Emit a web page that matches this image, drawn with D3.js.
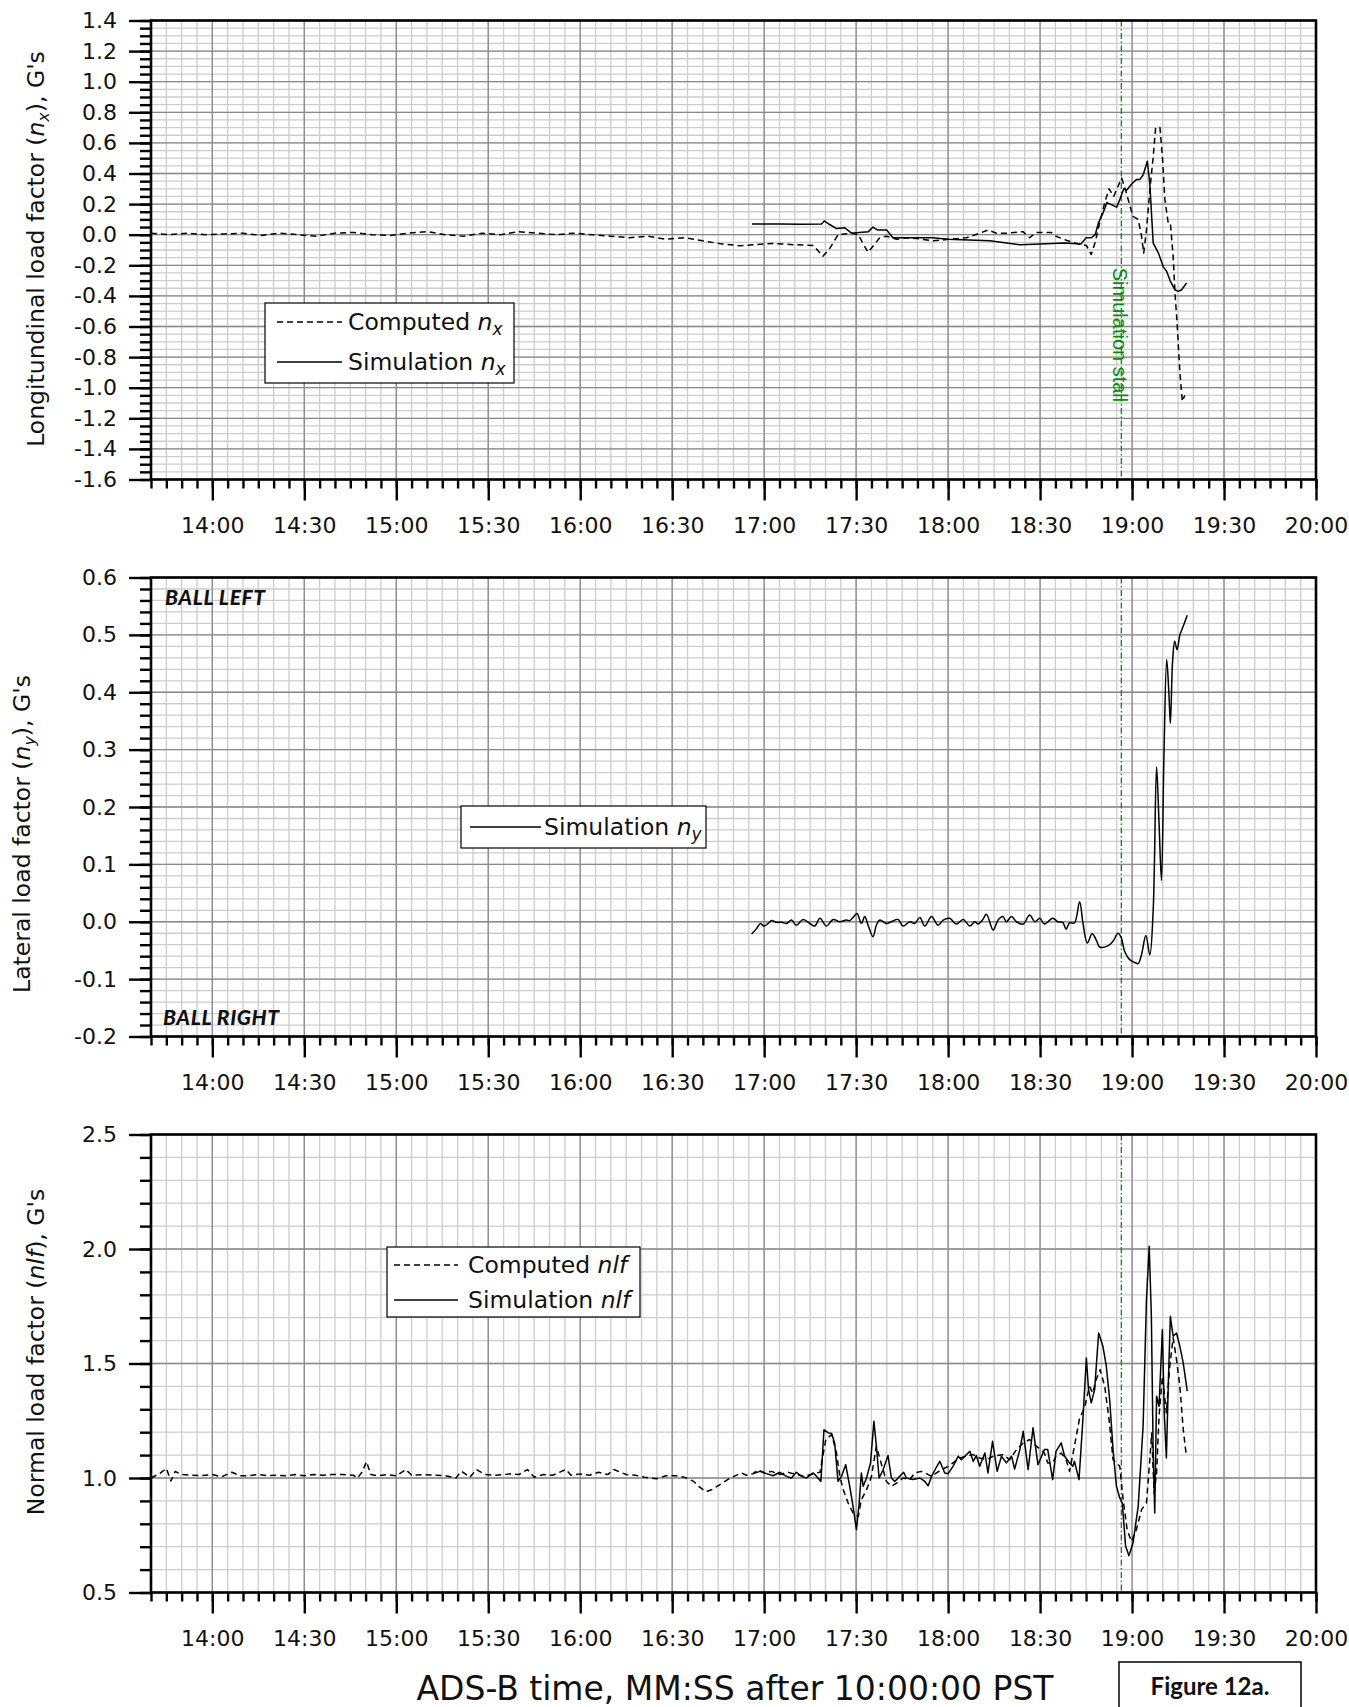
<!DOCTYPE html>
<html>
<head>
<meta charset="utf-8">
<script src="https://cdn.jsdelivr.net/npm/d3@7"></script>
<style>
  body { margin: 0; background: #fff; }
  svg { display: block; }
  text { font-family: "DejaVu Sans", "Noto Sans", sans-serif; fill: #111; }
</style>
</head>
<body>
<svg id="chart" width="1349" height="1707"></svg>
<script>
// Time is seconds past the hour (MM:SS after 10:00:00 PST), value in G's.

const xTickLabels = ["14:00","14:30","15:00","15:30","16:00","16:30","17:00","17:30","18:00","18:30","19:00","19:30","20:00"];
const stallTime = 1136.5;

// Longitudinal load factor, computed from ADS-B
const computedNx = [
  [820,0.01],[826,0.0],[832,0.01],[838,0.0],[844,0.005],[850,0.01],[856,-0.005],[862,0.01],[868,0.0],
  [874,-0.01],[880,0.01],[886,0.015],[892,0.0],[898,-0.005],[904,0.01],[910,0.02],[916,0.0],[922,-0.01],
  [928,0.01],[934,0.0],[940,0.02],[946,0.01],[952,0.0],[958,0.01],[964,0.0],[970,-0.01],[976,-0.02],
  [982,-0.01],[988,-0.03],[994,-0.02],[1000,-0.04],[1006,-0.06],[1012,-0.072],[1022.9,-0.057],[1029.5,-0.065],
  [1036,-0.07],[1039.2,-0.14],[1041.4,-0.09],[1044.1,0.0],[1048.5,0.01],[1050.7,0.0],[1052.3,-0.06],
  [1053.9,-0.115],[1056.1,-0.06],[1057.7,-0.02],[1059.9,-0.01],[1063.2,-0.03],[1066.4,-0.02],[1069.7,-0.025],
  [1075.1,-0.04],[1080.5,-0.03],[1086,-0.02],[1090.3,0.01],[1093,0.03],[1095.8,0.01],[1099,0.01],
  [1104.4,0.02],[1106.6,-0.02],[1108.7,0.015],[1113.6,0.015],[1115.2,-0.01],[1119,-0.04],[1123.4,-0.065],
  [1125.1,-0.07],[1126.7,-0.13],[1128.1,-0.04],[1129.4,0.076],[1131.1,0.21],[1132.5,0.30],[1134,0.25],
  [1135.4,0.315],[1136.6,0.37],[1137.9,0.29],[1139,0.21],[1140.3,0.12],[1142,0.10],[1143.1,-0.01],
  [1143.8,-0.12],[1144.7,0.03],[1145.8,0.29],[1146.9,0.51],[1147.7,0.70],[1149.1,0.70],[1149.9,0.51],
  [1150.7,0.23],[1151.8,0.076],[1152.5,0.076],[1153.4,-0.14],[1154,-0.38],[1154.7,-0.58],[1155.6,-0.90],
  [1156.4,-1.09],[1157.2,-1.05]
];

// Longitudinal load factor, simulation
const simulationNx = [
  [1016,0.07],[1025,0.07],[1032,0.068],[1038.7,0.07],[1039.6,0.09],[1041.5,0.065],[1043.6,0.04],
  [1046.3,0.045],[1048.5,0.01],[1051,0.015],[1054,0.02],[1055.5,0.05],[1057,0.03],[1060,0.03],
  [1062,-0.02],[1067,-0.02],[1075,-0.02],[1080,-0.03],[1093.6,-0.04],[1103.4,-0.065],[1110,-0.06],
  [1118,-0.055],[1123.4,-0.06],[1125,-0.02],[1126.7,-0.02],[1128,0.0],[1129,0.076],[1130.5,0.14],
  [1131.8,0.21],[1133.4,0.195],[1135,0.18],[1136,0.23],[1137.3,0.30],[1138.2,0.29],[1139.8,0.33],
  [1141.4,0.36],[1142.5,0.36],[1143.6,0.39],[1145,0.48],[1145.8,0.33],[1146.9,-0.055],[1148.6,-0.12],
  [1150.2,-0.21],[1151.3,-0.24],[1152.4,-0.30],[1154,-0.36],[1155.1,-0.37],[1156.2,-0.36],[1157.8,-0.315]
];

// Lateral load factor, simulation
const simulationNy = [
  [1015.9,-0.0215],[1017.5,-0.012],[1018.8,-0.003],[1019.9,-0.0075],[1021.3,-0.003],[1022.4,0.002],
  [1024,-0.001],[1025.7,-0.001],[1027.3,-0.003],[1028.9,0.003],[1030.5,-0.006],[1032.7,0.004],
  [1034.9,-0.003],[1036.5,-0.0075],[1038.2,0.006],[1040.3,-0.0075],[1042.5,0.004],[1044.7,0.0],
  [1046.8,0.003],[1047.9,0.002],[1049,0.0075],[1050.3,0.0145],[1051.7,-0.003],[1052.8,0.009],
  [1053.9,-0.006],[1055.5,-0.026],[1056.6,-0.006],[1057.7,0.003],[1059.9,-0.003],[1061.5,0.0],
  [1063.7,0.004],[1065.3,-0.0075],[1067.5,0.0],[1069.1,-0.003],[1070.8,0.0075],[1072.4,-0.0075],
  [1074.6,0.009],[1076.7,-0.006],[1078.4,0.003],[1080.5,0.006],[1082.7,-0.004],[1084.9,0.004],
  [1087.1,-0.0075],[1088.7,0.0],[1089.8,-0.004],[1091.2,0.003],[1092.5,0.013],[1094.7,-0.0145],
  [1096.3,0.003],[1097.9,0.009],[1099,0.0],[1100.7,0.009],[1102.3,0.0],[1104.5,-0.004],[1106.6,0.0116],
  [1108.3,0.0],[1109.9,0.006],[1111.4,-0.004],[1114.1,0.006],[1115.8,0.0],[1117.4,-0.001],[1118.5,-0.013],
  [1119.6,-0.002],[1121.2,-0.002],[1122.9,0.035],[1124,-0.003],[1125.4,-0.037],[1127,-0.021],
  [1128.5,-0.034],[1129.4,-0.044],[1132.1,-0.042],[1133.8,-0.034],[1135.4,-0.02],[1136.5,-0.028],
  [1137.6,-0.052],[1139.2,-0.066],[1140.9,-0.071],[1142,-0.073],[1143.1,-0.057],[1144.5,-0.024],
  [1145.8,-0.058],[1146.9,0.021],[1148,0.27],[1148.8,0.172],[1149.6,0.072],[1150.4,0.288],
  [1151.3,0.457],[1152,0.40],[1152.5,0.346],[1153.2,0.451],[1153.9,0.489],[1154.7,0.474],
  [1155.6,0.50],[1156.7,0.515],[1158,0.534]
];

// Normal load factor, computed from ADS-B
const computedNlf = [
  [820,1.0],[822.9,1.02],[825,1.042],[826.5,0.987],[827.9,1.029],[830,1.015],[833,1.012],[836,1.01],
  [840,1.015],[843,1.005],[846.4,1.025],[849,1.01],[852,1.01],[855,1.015],[858,1.01],[861,1.012],
  [864,1.01],[867,1.015],[870,1.01],[873,1.015],[876,1.012],[879,1.015],[882,1.015],[886,1.012],
  [887.4,1.0],[888.8,1.025],[890.3,1.071],[891.7,1.015],[894,1.01],[897,1.015],[900,1.01],[903.2,1.037],
  [905,1.012],[909,1.015],[913,1.012],[916,1.01],[919.5,1.0],[920.5,1.018],[921.3,1.029],[924,1.003],
  [926.1,1.037],[929,1.015],[932,1.012],[935,1.015],[937,1.018],[940,1.015],[942.8,1.037],[945,1.003],
  [948,1.015],[951,1.012],[955.3,1.037],[957,1.012],[960,1.018],[963,1.012],[966,1.025],[969,1.015],
  [971,1.037],[975,1.015],[978,1.012],[981,1.003],[985,0.997],[988,1.01],[991,1.01],[994,1.003],
  [997,0.985],[999,0.96],[1001,0.94],[1003,0.95],[1006,0.975],[1009,1.0],[1012.6,1.022],
  [1014.2,1.012],[1016.4,1.019],[1018,1.036],[1020.2,1.022],[1022.4,1.029],[1025.1,1.015],[1027.8,1.025],
  [1030.5,1.015],[1033.3,1.007],[1036,1.019],[1038.2,1.025],[1040.1,1.168],[1042,1.19],[1043.6,1.109],
  [1044.7,1.007],[1045.8,0.949],[1047.4,0.891],[1049,0.847],[1050.7,0.832],[1051.7,0.905],[1053.4,0.949],
  [1055,1.007],[1056.6,1.139],[1058.3,1.058],[1059.9,0.985],[1061.5,0.964],[1063.2,0.978],[1065.3,1.0],
  [1067.5,0.993],[1069.1,1.022],[1071.3,1.029],[1072.9,1.019],[1074.6,1.007],[1076.2,1.022],[1077.8,1.036],
  [1080,1.051],[1081.6,1.066],[1083.8,1.087],[1086,1.095],[1088.2,1.102],[1090.3,1.087],[1092.5,1.08],
  [1094.7,1.095],[1097.9,1.102],[1100.1,1.08],[1102.3,1.124],[1104.5,1.153],[1106.6,1.168],[1108.8,1.139],
  [1111.4,1.109],[1112.5,1.066],[1114.1,1.066],[1115.2,1.095],[1116.9,1.109],[1118.5,1.08],[1119.6,1.029],
  [1121.2,1.138],[1122.9,1.262],[1124.5,1.306],[1126.1,1.40],[1127.2,1.371],[1128.3,1.43],[1129.6,1.473],
  [1131.1,1.40],[1132.5,1.255],[1133.8,1.08],[1136,1.051],[1137.1,0.905],[1138.4,0.774],[1139.8,0.723],
  [1141.4,0.774],[1143.1,0.862],[1144.7,0.891],[1145.8,1.08],[1146.4,1.197],[1147.2,0.934],[1148,1.022],
  [1148.8,1.269],[1149.9,1.444],[1151.2,1.284],[1152.3,1.488],[1153.4,1.612],[1154.5,1.517],[1155.6,1.40],
  [1156.7,1.211],[1157.6,1.109]
];

// Normal load factor, simulation
const simulationNlf = [
  [1016.4,1.019],[1018.6,1.029],[1020.8,1.019],[1022.9,1.01],[1025.1,1.025],[1027.3,1.007],[1028.9,1.0],
  [1030.5,1.025],[1032.2,1.007],[1033.8,1.0],[1036,1.022],[1037.1,1.007],[1038.5,0.985],[1039.5,1.211],
  [1040.9,1.197],[1042,1.194],[1043,1.153],[1044.1,0.985],[1045.2,1.007],[1046.6,1.058],[1047.9,0.964],
  [1049,0.876],[1050.1,0.774],[1051,0.891],[1051.7,1.022],[1052.3,0.964],[1053.4,1.0],[1054.7,1.066],
  [1055.8,1.248],[1056.6,1.139],[1057.5,1.0],[1058.8,1.036],[1060.4,1.098],[1061.5,1.0],[1062.6,0.985],
  [1064.2,1.007],[1065.5,1.025],[1066.4,1.0],[1068.6,0.993],[1070.8,1.0],[1072.4,0.985],[1073.5,0.966],
  [1074.6,1.007],[1076.2,1.048],[1077.3,1.073],[1078.9,1.022],[1080,1.019],[1081.6,1.051],[1083.3,1.095],
  [1084.3,1.08],[1086,1.102],[1087.1,1.117],[1088.2,1.073],[1089.2,1.098],[1090.3,1.051],[1092,1.109],
  [1093,1.022],[1094.5,1.16],[1096,1.029],[1097.4,1.095],[1099,1.066],[1100.7,1.095],[1101.7,1.039],
  [1103.4,1.124],[1104.5,1.204],[1106.1,1.036],[1107.7,1.219],[1109.3,1.058],[1111.4,1.124],[1112.5,1.124],
  [1114.1,0.993],[1115.2,1.116],[1116.9,1.153],[1118,1.095],[1119.6,1.066],[1120.7,1.051],[1121.2,1.073],
  [1122.7,0.993],[1124,1.262],[1125.1,1.524],[1125.8,1.386],[1126.7,1.328],[1127.8,1.386],[1129.1,1.633],
  [1130.5,1.575],[1131.6,1.488],[1132.7,1.342],[1133.8,1.124],[1134.9,0.964],[1136,0.913],[1136.8,0.891],
  [1137.9,0.702],[1139,0.661],[1140.3,0.716],[1142,0.876],[1143.6,1.226],[1144.7,1.779],[1145.6,2.012],
  [1146.3,1.706],[1146.9,1.109],[1147.4,0.847],[1148,1.357],[1148.8,1.313],[1149.9,1.648],[1150.5,1.284],
  [1151.2,1.087],[1151.8,1.40],[1152.5,1.706],[1153.4,1.619],[1154.5,1.633],[1155.6,1.575],[1156.7,1.502],
  [1158,1.379]
];

const plotLeft = 151, plotRight = 1316;
const svg = d3.select("#chart");

const x = d3.scaleLinear().domain([820, 1200]).range([plotLeft, plotRight]);
const majorX = d3.range(840, 1201, 30);
const minorX = d3.range(820, 1201, 5);

// Adds a run of text pieces; pieces may be italic and/or subscript.
function richText(sel, pieces, subSize) {
  pieces.forEach(p => {
    const ts = sel.append("tspan").text(p.t);
    if (p.it) ts.attr("font-style", "italic");
    if (p.sub) ts.attr("font-size", subSize).attr("dy", "0.32em");
    if (p.after) ts.attr("dy", "-0.22em");
  });
  return sel;
}

function steps(lo, hi, step) {
  return d3.range(0, Math.round((hi - lo) / step) + 1).map(i => +(lo + i * step).toFixed(3));
}

function panel(cfg) {
  const g = svg.append("g");
  const y = d3.scaleLinear().domain(cfg.domain).range([cfg.bottom, cfg.top]);
  const majorY = steps(cfg.domain[0], cfg.domain[1], cfg.major);
  const minorY = steps(cfg.domain[0], cfg.domain[1], cfg.minor);

  // light grid
  const grid = g.append("g");
  grid.selectAll(".vmin").data(minorX).join("line")
    .attr("x1", d => x(d)).attr("x2", d => x(d)).attr("y1", cfg.top).attr("y2", cfg.bottom)
    .attr("stroke", "#cdcdcd").attr("stroke-width", 1.3);
  grid.selectAll(".hmin").data(minorY).join("line")
    .attr("x1", plotLeft).attr("x2", plotRight).attr("y1", d => y(d)).attr("y2", d => y(d))
    .attr("stroke", "#cdcdcd").attr("stroke-width", 1.3);
  // dark grid
  grid.selectAll(".vmaj").data(majorX).join("line")
    .attr("x1", d => x(d)).attr("x2", d => x(d)).attr("y1", cfg.top).attr("y2", cfg.bottom)
    .attr("stroke", "#8a8a8a").attr("stroke-width", 1.3);
  grid.selectAll(".hmaj").data(majorY).join("line")
    .attr("x1", plotLeft).attr("x2", plotRight).attr("y1", d => y(d)).attr("y2", d => y(d))
    .attr("stroke", "#8a8a8a").attr("stroke-width", 1.3);

  // stall marker
  g.append("line")
    .attr("x1", x(stallTime)).attr("x2", x(stallTime)).attr("y1", cfg.top).attr("y2", cfg.bottom)
    .attr("stroke", "#0a8a0a").attr("stroke-width", 1.3).attr("stroke-dasharray", "6,2.5,1.5,2.5");

  // series
  cfg.series.forEach(s => {
    const line = d3.line().x(d => x(d[0])).y(d => y(d[1]));
    if (s.smooth) line.curve(d3.curveCatmullRom.alpha(0.5));
    g.append("path").datum(s.data).attr("d", line)
      .attr("fill", "none").attr("stroke", "#000").attr("stroke-width", 1.5)
      .attr("stroke-linejoin", "round")
      .attr("stroke-dasharray", s.dashed ? "6,4" : null);
  });

  // axes
  const axMinorX = d3.axisBottom(x).tickValues(minorX).tickSize(9).tickFormat("");
  const axMajorX = d3.axisBottom(x).tickValues(majorX).tickSize(21).tickPadding(17)
    .tickFormat(d => xTickLabels[majorX.indexOf(d)]);
  const axMinorY = d3.axisLeft(y).tickValues(minorY).tickSize(11).tickFormat("");
  const axMajorY = d3.axisLeft(y).tickValues(majorY).tickSize(22).tickPadding(12)
    .tickFormat(d => d.toFixed(1));

  [[axMinorX, `translate(0,${cfg.bottom})`], [axMajorX, `translate(0,${cfg.bottom})`],
   [axMinorY, `translate(${plotLeft},0)`], [axMajorY, `translate(${plotLeft},0)`]].forEach(([a, tr]) => {
    const ga = g.append("g").attr("transform", tr).call(a);
    ga.select(".domain").remove();
    ga.selectAll(".tick line").attr("stroke", "#000").attr("stroke-width", 2.4);
    ga.selectAll("text").attr("font-size", 22).attr("fill", "#111");
  });

  // frame
  g.append("rect").attr("x", plotLeft).attr("y", cfg.top)
    .attr("width", plotRight - plotLeft).attr("height", cfg.bottom - cfg.top)
    .attr("fill", "none").attr("stroke", "#000").attr("stroke-width", 2.6);

  // y title
  const yt = g.append("text")
    .attr("transform", `translate(${cfg.titleX},${cfg.titleY}) rotate(-90)`)
    .attr("text-anchor", "middle").attr("font-size", 23.5);
  richText(yt, cfg.title, 16);

  // legend
  if (cfg.legend) {
    const L = cfg.legend;
    g.append("rect").attr("x", L.x).attr("y", L.y).attr("width", L.w).attr("height", L.h)
      .attr("fill", "#fff").attr("stroke", "#000").attr("stroke-width", 1.2);
    L.rows.forEach(r => {
      g.append("line").attr("x1", L.lineX0).attr("x2", L.lineX1).attr("y1", r.cy).attr("y2", r.cy)
        .attr("stroke", "#000").attr("stroke-width", 1.3)
        .attr("stroke-dasharray", r.dashed ? "6,4" : null);
      const t = g.append("text").attr("x", L.textX).attr("y", r.cy + 8).attr("font-size", L.fs);
      richText(t, r.label, 17);
    });
  }
  return { g, y };
}

// Panel 1: longitudinal
const p1 = panel({
  top: 20.5, bottom: 479.5, domain: [-1.6, 1.4], major: 0.2, minor: 0.05,
  titleX: 44, titleY: 249,
  title: [{t:"Longitundinal load factor ("},{t:"n",it:true},{t:"x",it:true,sub:true},{t:"), G's",after:true}],
  series: [{data: computedNx, dashed: true}, {data: simulationNx}],
  legend: { x: 265, y: 303, w: 249, h: 80, lineX0: 277, lineX1: 342, textX: 348, fs: 23.5,
    rows: [
      {cy: 322, dashed: true, label: [{t:"Computed "},{t:"n",it:true},{t:"x",it:true,sub:true}]},
      {cy: 362, label: [{t:"Simulation "},{t:"n",it:true},{t:"x",it:true,sub:true}]}
    ] }
});
p1.g.append("text")
  .attr("transform", `translate(${x(stallTime) - 1.5},${335}) rotate(90)`)
  .attr("text-anchor", "middle").attr("dy", "0.36em")
  .style("font-family", "'Liberation Sans', Arial, sans-serif")
  .attr("font-size", 20).style("fill", "#0a8a0a")
  .text("Simulation stall");

// Panel 2: lateral
const p2 = panel({
  top: 577.5, bottom: 1036.5, domain: [-0.2, 0.6], major: 0.1, minor: 0.02,
  titleX: 30, titleY: 834,
  title: [{t:"Lateral load factor ("},{t:"n",it:true},{t:"y",it:true,sub:true},{t:"), G's",after:true}],
  series: [{data: simulationNy, smooth: true}],
  legend: { x: 461, y: 806, w: 245, h: 42, lineX0: 470, lineX1: 541, textX: 544, fs: 23.5,
    rows: [ {cy: 827, label: [{t:"Simulation "},{t:"n",it:true},{t:"y",it:true,sub:true}]} ] }
});
[["BALL LEFT", 165, 605], ["BALL RIGHT", 163, 1025]].forEach(([s, tx, ty]) => {
  p2.g.append("text").attr("x", tx).attr("y", ty).attr("font-size", 21)
    .style("font-family", "Lato, sans-serif").attr("letter-spacing", 0.6)
    .attr("font-weight", 900).attr("font-style", "italic").text(s);
});

// Panel 3: normal
const p3 = panel({
  top: 1134.5, bottom: 1592.5, domain: [0.5, 2.5], major: 0.5, minor: 0.1,
  titleX: 44, titleY: 1352,
  title: [{t:"Normal load factor ("},{t:"nlf",it:true},{t:"), G's"}],
  series: [{data: computedNlf, dashed: true}, {data: simulationNlf}],
  legend: { x: 387, y: 1247, w: 253, h: 70, lineX0: 394, lineX1: 458, textX: 468, fs: 23.5,
    rows: [
      {cy: 1265, dashed: true, label: [{t:"Computed "},{t:"nlf",it:true}]},
      {cy: 1300, label: [{t:"Simulation "},{t:"nlf",it:true}]}
    ] }
});

// x title and figure tag
svg.append("text").attr("x", 735).attr("y", 1700).attr("text-anchor", "middle")
  .attr("font-size", 33).text("ADS-B time, MM:SS after 10:00:00 PST");
svg.append("rect").attr("x", 1119).attr("y", 1662).attr("width", 182).attr("height", 50)
  .attr("fill", "#fff").attr("stroke", "#000").attr("stroke-width", 1.5);
svg.append("text").attr("x", 1210).attr("y", 1695).attr("text-anchor", "middle")
  .style("font-family", "Lato, sans-serif")
  .attr("font-size", 24).attr("font-weight", 700).text("Figure 12a.");
</script>
</body>
</html>
